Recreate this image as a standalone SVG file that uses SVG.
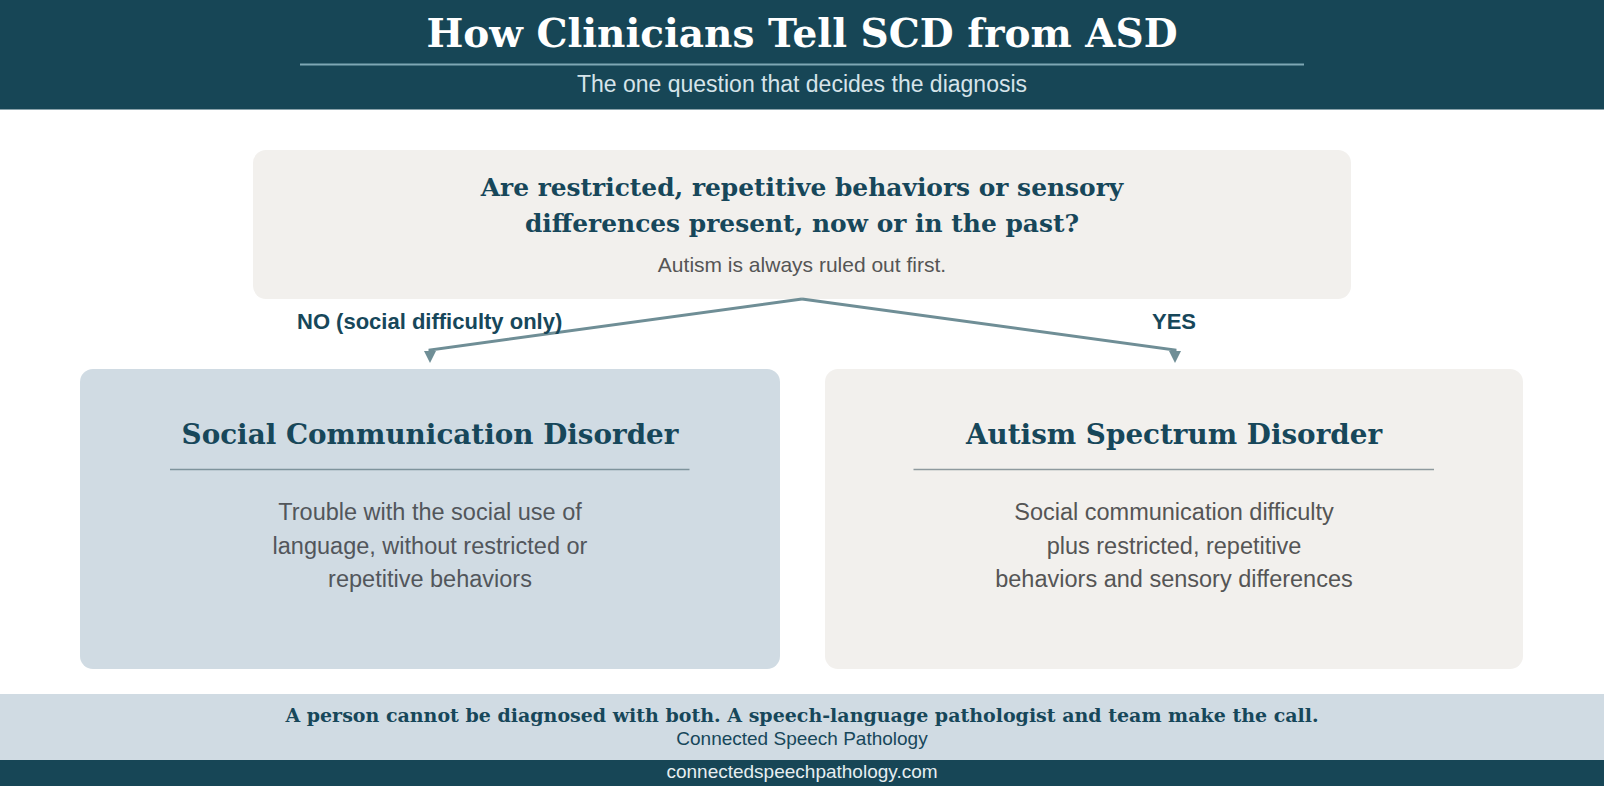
<svg xmlns="http://www.w3.org/2000/svg" width="1604" height="786" viewBox="0 0 1604 786">
<style>
.serif{font-family:"DejaVu Serif","Liberation Serif",serif;font-weight:bold;fill:#17475A}
.sans{font-family:"Liberation Sans",Arial,sans-serif}
.body{font-family:"Liberation Sans",Arial,sans-serif;font-size:23.5px;fill:#52565B}
.conn{fill:none;stroke:#6F8E96;stroke-width:3}
.lbl{font-family:"Liberation Sans",Arial,sans-serif;font-size:22px;font-weight:bold;fill:#17475A}
</style>
<defs>
<marker id="arr" viewBox="0 0 12 12" refX="0" refY="6" markerWidth="12" markerHeight="12" orient="auto" markerUnits="userSpaceOnUse">
<path d="M0,0 L12,6 L0,12 z" fill="#6F8E96"/>
</marker>
</defs>
<rect width="1604" height="786" fill="#FFFFFF"/>
<g id="header">
<rect x="0" y="0" width="1604" height="109.5" fill="#174656"/>
<text x="802" y="47" text-anchor="middle" class="serif" style="fill:#FFFFFF;font-size:39px">How Clinicians Tell SCD from ASD</text>
<line x1="300" y1="64.5" x2="1304" y2="64.5" stroke="#7FA7B4" stroke-width="2"/>
<text x="802" y="91.5" text-anchor="middle" class="sans" style="fill:#D6E4EA;font-size:23px">The one question that decides the diagnosis</text>
</g>
<g id="question">
<rect x="253" y="150" width="1098" height="149" rx="13" fill="#F2F0ED"/>
<text x="802" y="196" text-anchor="middle" class="serif" style="font-size:24.9px">Are restricted, repetitive behaviors or sensory</text>
<text x="802" y="232" text-anchor="middle" class="serif" style="font-size:24.9px">differences present, now or in the past?</text>
<text x="802" y="271.5" text-anchor="middle" class="sans" style="fill:#555555;font-size:21px">Autism is always ruled out first.</text>
</g>
<g id="connectors">
<path class="conn" d="M802,299 L430,350 L430,351" marker-end="url(#arr)"/>
<path class="conn" d="M802,299 L1175,350 L1175,351" marker-end="url(#arr)"/>
<text x="297" y="328.5" class="lbl">NO (social difficulty only)</text>
<text x="1152" y="328.5" class="lbl">YES</text>
</g>
<g id="scd">
<rect x="80" y="369" width="700" height="300" rx="13" fill="#D0DBE3"/>
<text x="430" y="444" text-anchor="middle" class="serif" style="font-size:27.8px">Social Communication Disorder</text>
<line x1="170" y1="469.5" x2="689.5" y2="469.5" stroke="#7E939C" stroke-width="1.5"/>
<text x="430" y="520" text-anchor="middle" class="body">Trouble with the social use of</text>
<text x="430" y="553.5" text-anchor="middle" class="body">language, without restricted or</text>
<text x="430" y="587" text-anchor="middle" class="body">repetitive behaviors</text>
</g>
<g id="asd">
<rect x="825" y="369" width="698" height="300" rx="13" fill="#F2F0ED"/>
<text x="1174" y="444" text-anchor="middle" class="serif" style="font-size:27.8px">Autism Spectrum Disorder</text>
<line x1="913.5" y1="469.5" x2="1434" y2="469.5" stroke="#8E9A9E" stroke-width="1.5"/>
<text x="1174" y="520" text-anchor="middle" class="body" style="fill:#555555">Social communication difficulty</text>
<text x="1174" y="553.5" text-anchor="middle" class="body" style="fill:#555555">plus restricted, repetitive</text>
<text x="1174" y="587" text-anchor="middle" class="body" style="fill:#555555">behaviors and sensory differences</text>
</g>
<g id="footer">
<rect x="0" y="694" width="1604" height="66" fill="#D0DBE3"/>
<text x="802" y="721.5" text-anchor="middle" class="serif" style="font-size:19px">A person cannot be diagnosed with both. A speech-language pathologist and team make the call.</text>
<text x="802" y="745" text-anchor="middle" class="sans" style="fill:#17475A;font-size:19px">Connected Speech Pathology</text>
<rect x="0" y="760" width="1604" height="26" fill="#174656"/>
<text x="802" y="778" text-anchor="middle" class="sans" style="fill:#E6EEF1;font-size:19px">connectedspeechpathology.com</text>
</g>
</svg>
